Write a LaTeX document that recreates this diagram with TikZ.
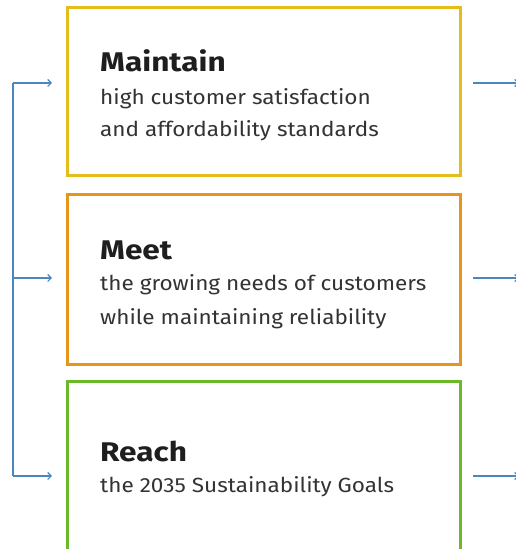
\documentclass[tikz,border=0pt]{standalone}
\usepackage{fontspec}
\setmainfont{Fira Sans}
\newfontfamily\subfont[FakeStretch=1.1]{Fira Sans}
\newfontfamily\ttlfont[FakeStretch=1.17]{Fira Sans}
\usetikzlibrary{arrows.meta}
\definecolor{cyellow}{HTML}{E2BD1C}
\definecolor{corange}{HTML}{E8951C}
\definecolor{cgreen}{HTML}{6CB92B}
\definecolor{cblue}{HTML}{4A86C0}
\definecolor{ctitle}{HTML}{1E1E1E}
\definecolor{ctext}{HTML}{333333}
\tikzset{
  card/.style={draw=#1, line width=3pt, minimum width=393pt, inner sep=0pt, fill=white},
  ttl/.style={anchor=base west, inner sep=0pt, text=ctitle, font=\ttlfont\fontsize{27}{30}\selectfont\bfseries},
  sub/.style={anchor=base west, inner sep=0pt, text=ctext, font=\subfont\fontsize{20.5}{24}\selectfont},
  link/.style={draw=cblue, line width=1.1pt, -{Straight Barb[length=3.5pt,width=7pt]}},
}
\begin{document}
\begin{tikzpicture}[x=1pt,y=1pt]
\useasboundingbox (0,0) rectangle (516,549);
% boxes
\node[card=cyellow, minimum height=168pt] (b1) at (263.5,457) {};
\node[card=corange, minimum height=170pt] (b2) at (263.5,269) {};
\node[card=cgreen, minimum height=170pt] (b3) at (263.5,82) {};
% texts
\node[ttl] (t1) at (100,477) {Maintain};
\node[sub] (s1a) at (100,444) {high customer satisfaction};
\node[sub] (s1b) at (100,412) {and affordability standards};
\node[ttl] (t2) at (100,289) {Meet};
\node[sub] (s2a) at (100,258) {the growing needs of customers};
\node[sub] (s2b) at (100,224) {while maintaining reliability};
\node[ttl] (t3) at (100,87) {Reach};
\node[sub] (s3a) at (100,56) {the 2035 Sustainability Goals};
% left connectors
\coordinate (l1) at (13,466);
\coordinate (l2) at (13,271);
\coordinate (l3) at (13,73);
\coordinate (e1) at (52,466);
\coordinate (e2) at (52,271);
\coordinate (e3) at (52,73);
\draw[draw=cblue, line width=1.1pt] (l1) -- (l3);
\draw[link] (l1) -- (e1);
\draw[link] (l2) -- (e2);
\draw[link] (l3) -- (e3);
% right connectors
\coordinate (r1) at (473,466);
\coordinate (r2) at (473,271);
\coordinate (r3) at (473,73);
\coordinate (f1) at (519,466);
\coordinate (f2) at (519,271);
\coordinate (f3) at (519,73);
\draw[link] (r1) -- (f1);
\draw[link] (r2) -- (f2);
\draw[link] (r3) -- (f3);
\end{tikzpicture}
\end{document}
